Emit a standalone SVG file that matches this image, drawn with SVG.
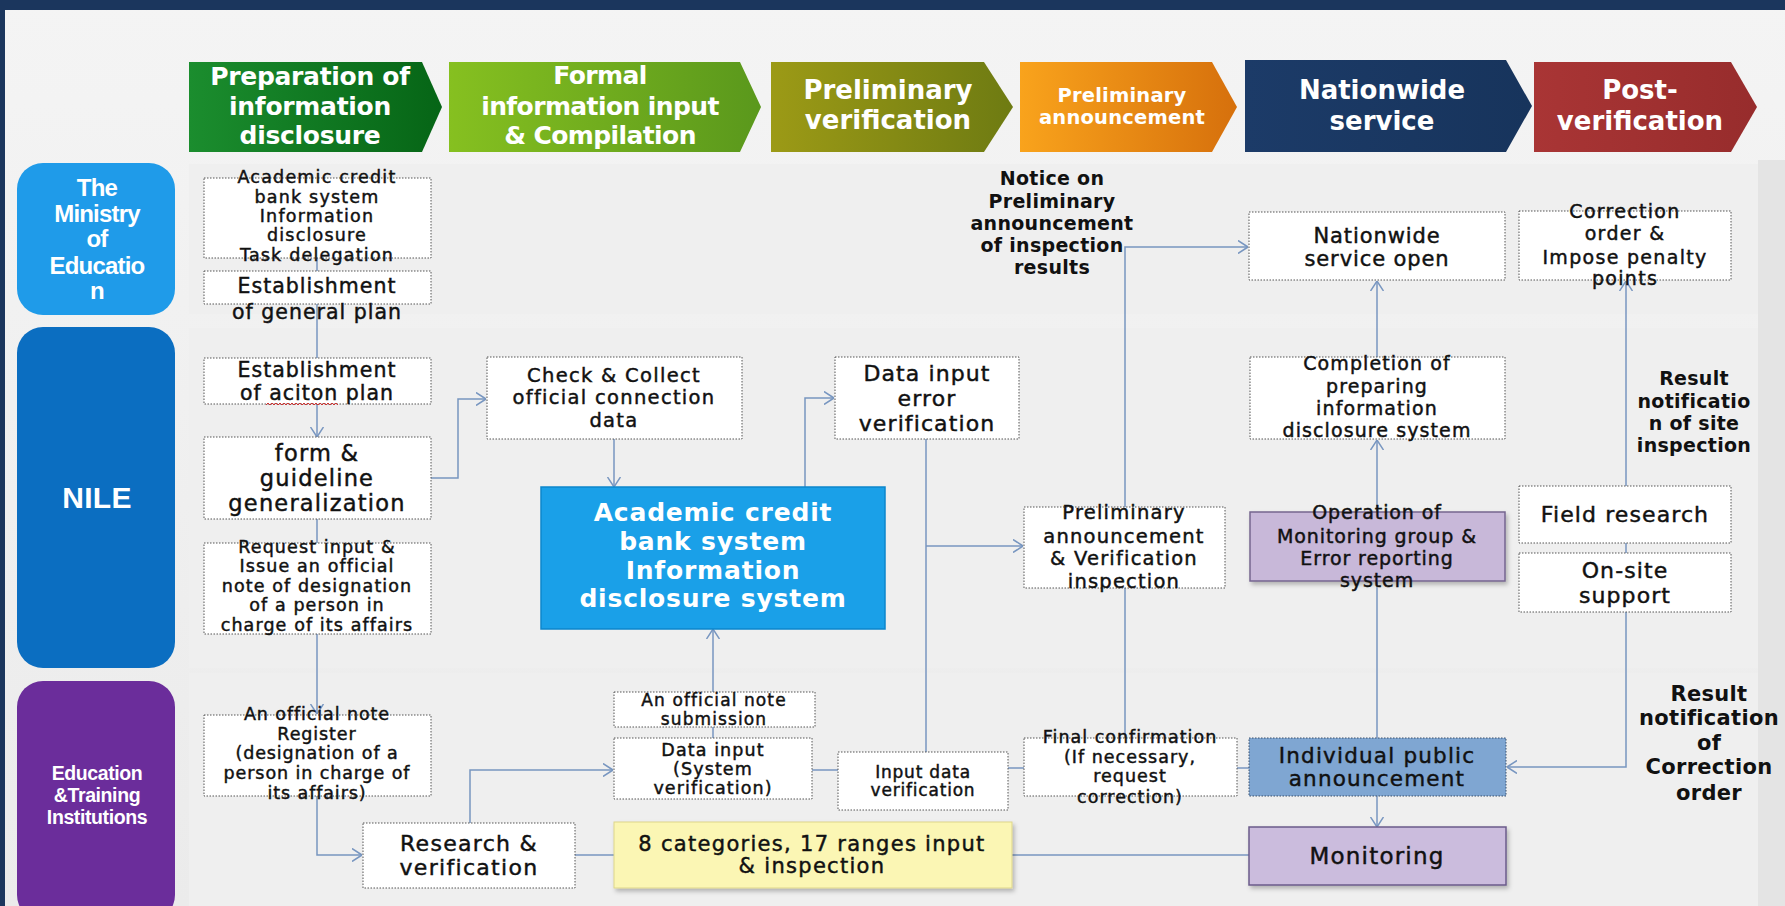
<svg xmlns="http://www.w3.org/2000/svg" width="1785" height="906" viewBox="0 0 1785 906">
<defs>
<linearGradient id="bg" x1="0" y1="0" x2="0" y2="1"><stop offset="0" stop-color="#f4f4f4"/><stop offset="1" stop-color="#ebebeb"/></linearGradient>
<linearGradient id="g1" x1="0" y1="0" x2="1" y2="0"><stop offset="0" stop-color="#1b8d2e"/><stop offset="1" stop-color="#066516"/></linearGradient>
<linearGradient id="g2" x1="0" y1="0" x2="1" y2="0"><stop offset="0" stop-color="#86c020"/><stop offset="1" stop-color="#5a981c"/></linearGradient>
<linearGradient id="g3" x1="0" y1="0" x2="1" y2="0"><stop offset="0" stop-color="#9c9a16"/><stop offset="1" stop-color="#6e7b12"/></linearGradient>
<linearGradient id="g4" x1="0" y1="0" x2="1" y2="0"><stop offset="0" stop-color="#f9a31c"/><stop offset="1" stop-color="#d6700c"/></linearGradient>
<linearGradient id="g5" x1="0" y1="0" x2="1" y2="0"><stop offset="0" stop-color="#1c3b68"/><stop offset="1" stop-color="#17345c"/></linearGradient>
<linearGradient id="g6" x1="0" y1="0" x2="1" y2="0"><stop offset="0" stop-color="#a93535"/><stop offset="1" stop-color="#972c2c"/></linearGradient>
<filter id="sh" x="-5%" y="-5%" width="115%" height="120%"><feDropShadow dx="2" dy="3" stdDeviation="2" flood-color="#000" flood-opacity="0.25"/></filter>
<marker id="arr" viewBox="0 0 10 14" refX="10" refY="7" markerWidth="10" markerHeight="14" markerUnits="userSpaceOnUse" orient="auto"><path d="M0,0.5 L10,7 L0,13.5" fill="none" stroke="#7896c0" stroke-width="1.5"/></marker>
</defs>
<style>
.hd{font-family:"DejaVu Sans","Open Sans",sans-serif;font-weight:700;fill:#fff;text-anchor:middle}
.ln{font-family:"Liberation Sans","Arial",sans-serif;font-weight:700;fill:#fff;text-anchor:middle}
.bx{fill:#fff;stroke:#555;stroke-width:1;stroke-dasharray:1.5 1.5}
.t{font-family:"DejaVu Sans","Open Sans",sans-serif;font-weight:400;fill:#111;stroke:#111;stroke-width:0.45;text-anchor:middle}
.b{font-family:"DejaVu Sans","Open Sans",sans-serif;font-weight:700;fill:#111;text-anchor:middle;letter-spacing:0.3px}
.w{font-family:"DejaVu Sans","Open Sans",sans-serif;font-weight:700;fill:#fff;text-anchor:middle;letter-spacing:0.8px}
.c{fill:none;stroke:#7896c0;stroke-width:1.5}
.ca{fill:none;stroke:#7896c0;stroke-width:1.5;marker-end:url(#arr)}
</style>
<rect x="0" y="0" width="1785" height="906" fill="url(#bg)"/>
<rect x="0" y="0" width="1785" height="10" fill="#1b365d"/>
<rect x="0" y="0" width="5" height="906" fill="#1b365d"/>
<rect x="189" y="164" width="1569" height="150" fill="#efefef"/>
<rect x="189" y="328" width="1569" height="340" fill="#efefef"/>
<rect x="189" y="673" width="1569" height="233" fill="#efefef"/>
<rect x="1758" y="160" width="27" height="746" fill="#e4e4e4"/>

<g id="header">
<g id="h1"><path d="M189,62 H422 L442,107 L422,152 H189 Z" fill="url(#g1)"/>
<text class="hd" font-size="25" letter-spacing="-0.3"><tspan x="310" y="85">Preparation of</tspan><tspan x="310" y="115">information</tspan><tspan x="310" y="144">disclosure</tspan></text></g>
<g id="h2"><path d="M449,62 H740 L761,107 L740,152 H449 Z" fill="url(#g2)"/>
<text class="hd" font-size="25" letter-spacing="-0.6"><tspan x="600" y="84">Formal</tspan><tspan x="600" y="115">information input</tspan><tspan x="600" y="144">&amp; Compilation</tspan></text></g>
<g id="h3"><path d="M771,62 H984 L1013,107 L984,152 H771 Z" fill="url(#g3)"/>
<text class="hd" font-size="26"><tspan x="888" y="99">Preliminary</tspan><tspan x="888" y="129">verification</tspan></text></g>
<g id="h4"><path d="M1020,62 H1212 L1237,107 L1212,152 H1020 Z" fill="url(#g4)"/>
<text class="hd" font-size="19.5" letter-spacing="0.2"><tspan x="1122" y="102">Preliminary</tspan><tspan x="1122" y="124">announcement</tspan></text></g>
<g id="h5"><path d="M1245,60 H1506 L1532,106 L1506,152 H1245 Z" fill="url(#g5)"/>
<text class="hd" font-size="26"><tspan x="1382" y="99">Nationwide</tspan><tspan x="1382" y="130">service</tspan></text></g>
<g id="h6"><path d="M1534,62 H1731 L1757,107 L1731,152 H1534 Z" fill="url(#g6)"/>
<text class="hd" font-size="26"><tspan x="1640" y="99">Post-</tspan><tspan x="1640" y="130">verification</tspan></text></g>
</g>

<g id="lane-ministry"><rect x="17" y="163" width="158" height="152" rx="26" fill="#1f9be9"/>
<text class="ln" font-size="24" letter-spacing="-0.8"><tspan x="97" y="196">The</tspan><tspan x="97" y="222">Ministry</tspan><tspan x="97" y="247">of</tspan><tspan x="97" y="274">Educatio</tspan><tspan x="97" y="299">n</tspan></text></g>
<g id="lane-nile"><rect x="17" y="327" width="158" height="341" rx="26" fill="#0b6ec1"/>
<text class="ln" font-size="30" x="97" y="508" letter-spacing="0.3">NILE</text></g>
<g id="lane-edu"><rect x="17" y="681" width="158" height="240" rx="26" fill="#6b2d9b"/>
<text class="ln" font-size="19.5" letter-spacing="-0.4"><tspan x="97" y="780">Education</tspan><tspan x="97" y="802">&amp;Training</tspan><tspan x="97" y="824">Institutions</tspan></text></g>

<g id="connectors">
<path class="c" d="M317,258 V271"/>
<path class="c" d="M317,304 V358"/>
<path class="ca" d="M317,404 V437"/>
<path class="ca" d="M431,478 H458 V399 H486"/>
<path class="ca" d="M614,439 V487"/>
<path class="ca" d="M805,487 V398 H834"/>
<path class="ca" d="M317,519 V714"/>
<path class="ca" d="M317,796 V855 H362"/>
<path class="ca" d="M470,823 V770 H613"/>
<path class="ca" d="M713,738 V629"/>
<path class="c" d="M812,770 H838"/>
<path class="c" d="M926,439 V752"/>
<path class="ca" d="M926,546 H1023"/>
<path class="c" d="M1008,768 H1024"/>
<path class="ca" d="M1125,738 V247 H1248"/>
<path class="c" d="M1237,768 H1249"/>
<path class="ca" d="M1377,796 V827"/>
<path class="ca" d="M1377,738 V440"/>
<path class="ca" d="M1377,357 V281"/>
<path class="c" d="M575,855 H614"/>
<path class="c" d="M1012,855 H1249"/>
<path class="ca" d="M1626,612 V767 H1507"/>
<path class="c" d="M1626,543 V553"/>
<path class="ca" d="M1626,486 V281"/>
</g>

<g id="n-a1"><rect class="bx" x="204" y="178" width="227" height="80"/>
<text class="t" font-size="17.5" letter-spacing="1.2"><tspan x="317" y="183">Academic credit</tspan><tspan x="317" y="203">bank system</tspan><tspan x="317" y="222">Information</tspan><tspan x="317" y="241">disclosure</tspan><tspan x="317" y="261">Task delegation</tspan></text></g>
<g id="n-a2"><rect class="bx" x="204" y="271" width="227" height="33"/>
<text class="t" font-size="20.5" letter-spacing="1"><tspan x="317" y="293">Establishment</tspan><tspan x="317" y="319">of general plan</tspan></text></g>
<g id="n-notice"><text class="b" font-size="19"><tspan x="1052" y="185">Notice on</tspan><tspan x="1052" y="208">Preliminary</tspan><tspan x="1052" y="230">announcement</tspan><tspan x="1052" y="252">of inspection</tspan><tspan x="1052" y="274">results</tspan></text></g>
<g id="n-open"><rect class="bx" x="1249" y="212" width="256" height="68"/>
<text class="t" font-size="21" letter-spacing="0.9"><tspan x="1377" y="243">Nationwide</tspan><tspan x="1377" y="266">service open</tspan></text></g>
<g id="n-corr"><rect class="bx" x="1519" y="211" width="212" height="69"/>
<text class="t" font-size="19" letter-spacing="1.3"><tspan x="1625" y="218">Correction</tspan><tspan x="1625" y="240">order &amp;</tspan><tspan x="1625" y="264">Impose penalty</tspan><tspan x="1625" y="285">points</tspan></text></g>

<g id="n-b1"><rect class="bx" x="204" y="358" width="227" height="46"/>
<text class="t" font-size="20.5" letter-spacing="1"><tspan x="317" y="377">Establishment</tspan><tspan x="317" y="400">of aciton plan</tspan></text>
<path d="M266,405 l2,-2 l2,2 l2,-2 l2,2 l2,-2 l2,2 l2,-2 l2,2 l2,-2 l2,2 l2,-2 l2,2 l2,-2 l2,2 l2,-2 l2,2 l2,-2 l2,2 l2,-2 l2,2 l2,-2 l2,2 l2,-2 l2,2 l2,-2 l2,2 l2,-2 l2,2 l2,-2 l2,2 l2,-2 l2,2 l2,-2 l2,2 l2,-2 l2,2" fill="none" stroke="#d03030" stroke-width="1"/></g>
<g id="n-b2"><rect class="bx" x="204" y="437" width="227" height="82"/>
<text class="t" font-size="22.5" letter-spacing="1.2"><tspan x="317" y="461">form &amp;</tspan><tspan x="317" y="486">guideline</tspan><tspan x="317" y="511">generalization</tspan></text></g>
<g id="n-b3"><rect class="bx" x="487" y="357" width="255" height="82"/>
<text class="t" font-size="19.5" letter-spacing="1.3"><tspan x="614" y="382">Check &amp; Collect</tspan><tspan x="614" y="404">official connection</tspan><tspan x="614" y="427">data</tspan></text></g>
<g id="n-big"><rect x="541" y="487" width="344" height="142" fill="#1aa0e8" stroke="#0c86cc" stroke-width="1.5"/>
<text class="w" font-size="25"><tspan x="713" y="521">Academic credit</tspan><tspan x="713" y="550">bank system</tspan><tspan x="713" y="579">Information</tspan><tspan x="713" y="607">disclosure system</tspan></text></g>
<g id="n-b4"><rect class="bx" x="835" y="357" width="184" height="82"/>
<text class="t" font-size="22" letter-spacing="1.1"><tspan x="927" y="381">Data input</tspan><tspan x="927" y="406">error</tspan><tspan x="927" y="431">verification</tspan></text></g>
<g id="n-b5"><rect class="bx" x="204" y="543" width="227" height="91"/>
<text class="t" font-size="17.5" letter-spacing="1.1"><tspan x="317" y="553">Request input &amp;</tspan><tspan x="317" y="572">Issue an official</tspan><tspan x="317" y="592">note of designation</tspan><tspan x="317" y="611">of a person in</tspan><tspan x="317" y="631">charge of its affairs</tspan></text></g>
<g id="n-prelim"><rect class="bx" x="1024" y="507" width="201" height="81"/>
<text class="t" font-size="19.5" letter-spacing="1.2"><tspan x="1124" y="519">Preliminary</tspan><tspan x="1124" y="543">announcement</tspan><tspan x="1124" y="565">&amp; Verification</tspan><tspan x="1124" y="588">inspection</tspan></text></g>
<g id="n-compl"><rect class="bx" x="1250" y="357" width="255" height="82"/>
<text class="t" font-size="19" letter-spacing="1.1"><tspan x="1377" y="370">Completion of</tspan><tspan x="1377" y="393">preparing</tspan><tspan x="1377" y="415">information</tspan><tspan x="1377" y="437">disclosure system</tspan></text></g>
<g id="n-oper"><rect x="1250" y="512" width="255" height="69" fill="#c8b8d9" stroke="#75658f" stroke-width="1.5" filter="url(#sh)"/>
<text class="t" font-size="19" letter-spacing="0.9"><tspan x="1377" y="519">Operation of</tspan><tspan x="1377" y="543">Monitoring group &amp;</tspan><tspan x="1377" y="565">Error reporting</tspan><tspan x="1377" y="587">system</tspan></text></g>
<g id="n-result1"><text class="b" font-size="19"><tspan x="1694" y="385">Result</tspan><tspan x="1694" y="408">notificatio</tspan><tspan x="1694" y="430">n of site</tspan><tspan x="1694" y="452">inspection</tspan></text></g>
<g id="n-field"><rect class="bx" x="1519" y="486" width="212" height="57"/>
<text class="t" font-size="22" letter-spacing="1.1" x="1625" y="522">Field research</text></g>
<g id="n-onsite"><rect class="bx" x="1519" y="553" width="212" height="59"/>
<text class="t" font-size="22" letter-spacing="1.1"><tspan x="1625" y="578">On-site</tspan><tspan x="1625" y="603">support</tspan></text></g>

<g id="n-c1"><rect class="bx" x="204" y="715" width="227" height="81"/>
<text class="t" font-size="17.5" letter-spacing="0.9"><tspan x="317" y="720">An official note</tspan><tspan x="317" y="740">Register</tspan><tspan x="317" y="759">(designation of a</tspan><tspan x="317" y="779">person in charge of</tspan><tspan x="317" y="799">its affairs)</tspan></text></g>
<g id="n-c4"><rect class="bx" x="614" y="692" width="201" height="35"/>
<text class="t" font-size="17" letter-spacing="1.1"><tspan x="714" y="706">An official note</tspan><tspan x="714" y="725">submission</tspan></text></g>
<g id="n-c3"><rect class="bx" x="614" y="738" width="198" height="61"/>
<text class="t" font-size="17.5" letter-spacing="1.1"><tspan x="713" y="756">Data input</tspan><tspan x="713" y="775">(System</tspan><tspan x="713" y="794">verification)</tspan></text></g>
<g id="n-c5"><rect class="bx" x="838" y="752" width="170" height="58"/>
<text class="t" font-size="17" letter-spacing="0.8"><tspan x="923" y="778">Input data</tspan><tspan x="923" y="796">verification</tspan></text></g>
<g id="n-c7"><rect class="bx" x="1024" y="738" width="213" height="58"/>
<text class="t" font-size="17.5" letter-spacing="1"><tspan x="1130" y="743">Final confirmation</tspan><tspan x="1130" y="763">(If necessary,</tspan><tspan x="1130" y="782">request</tspan><tspan x="1130" y="803">correction)</tspan></text></g>
<g id="n-c8"><rect x="1249" y="738" width="257" height="58" fill="#7fa6d2" stroke="#3b4f6a" stroke-width="1" stroke-dasharray="1.5 1.5"/>
<text class="t" font-size="21.5" letter-spacing="1.2"><tspan x="1377" y="763">Individual public</tspan><tspan x="1377" y="786">announcement</tspan></text></g>
<g id="n-c2"><rect class="bx" x="363" y="823" width="212" height="65"/>
<text class="t" font-size="22" letter-spacing="1.3"><tspan x="469" y="851">Research &amp;</tspan><tspan x="469" y="875">verification</tspan></text></g>
<g id="n-c6"><rect x="614" y="822" width="398" height="66" fill="#fbf6b4" stroke="#ddd68a" stroke-width="1" filter="url(#sh)"/>
<text class="t" font-size="21" letter-spacing="1.3"><tspan x="812" y="851">8 categories, 17 ranges input</tspan><tspan x="812" y="873">&amp; inspection</tspan></text></g>
<g id="n-c9"><rect x="1249" y="827" width="257" height="58" fill="#cbbcdd" stroke="#6b5b8a" stroke-width="1.5" filter="url(#sh)"/>
<text class="t" font-size="23" letter-spacing="1.2" x="1377" y="864">Monitoring</text></g>
<g id="n-result2"><text class="b" font-size="21"><tspan x="1709" y="701">Result</tspan><tspan x="1709" y="725">notification</tspan><tspan x="1709" y="750">of</tspan><tspan x="1709" y="774">Correction</tspan><tspan x="1709" y="800">order</tspan></text></g>
</svg>
